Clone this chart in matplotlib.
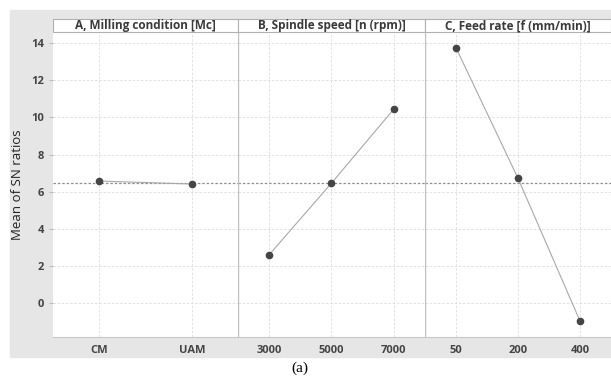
import matplotlib.pyplot as plt
from matplotlib.patches import Rectangle

plt.rcParams['font.family'] = ['Open Sans', 'DejaVu Sans']

titles = ["A, Milling condition [Mc]", "B, Spindle speed [n (rpm)]", "C, Feed rate [f (mm/min)]"]
levels_a = ["CM", "UAM"]
levels_b = ["3000", "5000", "7000"]
levels_c = ["50", "200", "400"]
sn_a = [6.57, 6.41]
sn_b = [2.60, 6.46, 10.45]
sn_c = [13.75, 6.72, -0.97]
grand_mean = 6.49

fig = plt.figure(figsize=(6.11, 3.81), dpi=100)
W, H = 611.0, 381.0

# gray backdrop
fig.patches.append(Rectangle((10 / W, 1 - 357 / H), 601 / W, 347 / H,
                             transform=fig.transFigure, color='#e6e6e6', zorder=-5))

edges = [53, 238, 425, 611]
bottom = 1 - 337 / H
top = 1 - 32 / H
panels = [(levels_a, sn_a), (levels_b, sn_b), (levels_c, sn_c)]

for i, (labels, vals) in enumerate(panels):
    ax = fig.add_axes([edges[i] / W, bottom, (edges[i + 1] - edges[i]) / W, top - bottom])
    ax.set_facecolor('white')
    x = list(range(len(labels)))
    ax.plot(x, vals, color='#a8a8a8', lw=0.8, zorder=3)
    ax.plot(x, vals, 'o', color='#454545', ms=4.5, zorder=4)
    ax.axhline(grand_mean, color='#909090', lw=0.9, ls=(0, (2, 1.5)), zorder=2)
    ax.set_xlim(-0.5, len(labels) - 0.5)
    ax.set_ylim(-1.83, 14.6)
    ax.set_xticks(x)
    ax.set_xticklabels(labels, fontsize=8, fontweight='bold', color='#444444')
    ax.set_yticks([0, 2, 4, 6, 8, 10, 12, 14])
    ax.grid(True, color='#dddddd', lw=0.6, ls=(0, (3, 2)))
    ax.tick_params(axis='x', length=0, pad=6)
    for s in ax.spines.values():
        s.set_visible(False)
    ax.spines['bottom'].set_visible(True)
    ax.spines['bottom'].set_color('#c8c8c8')
    if i == 0:
        ax.tick_params(axis='y', labelsize=8, length=3, color='#bbbbbb', labelcolor='#444444')
        for t in ax.get_yticklabels():
            t.set_fontweight('bold')
        ax.set_ylabel("Mean of SN ratios", fontsize=9.5, color='#222222', labelpad=5)
    else:
        ax.tick_params(axis='y', left=False, labelleft=False)
        ax.axvline(-0.5, color='#c0c0c0', lw=1.0, zorder=5)

    # header strip
    hx = edges[i] / W
    hw = (edges[i + 1] - edges[i]) / W
    fig.patches.append(Rectangle((hx, top), hw, 13 / H, transform=fig.transFigure,
                                 facecolor='white', edgecolor='#b0b0b0', lw=0.8, zorder=3))
    fig.text(hx + hw / 2, top + 6.5 / H, titles[i], ha='center', va='center',
             fontsize=8.5, fontweight='bold', color='#3a3a3a')

fig.text(300 / W, 1 - 368 / H, "(a)", ha='center', va='center', fontsize=11,
         family='Liberation Serif')

fig.savefig("out.png", dpi=100)
